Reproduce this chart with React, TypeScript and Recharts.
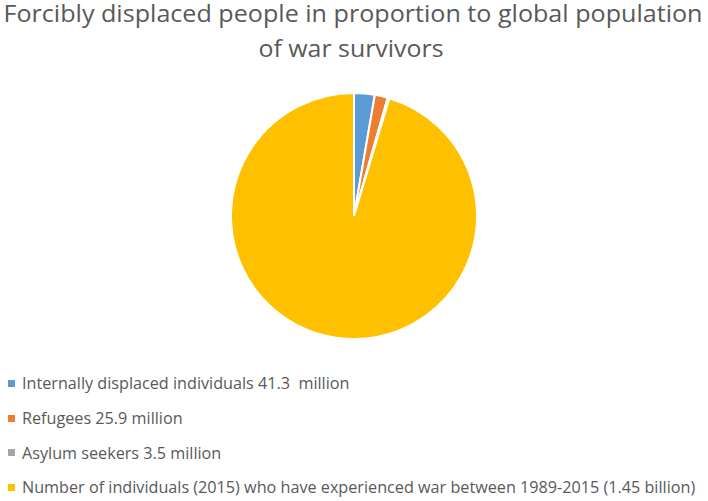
import React from "react";
import { PieChart, Pie, Cell, Legend } from "recharts";

const categories = [
  "Internally displaced individuals 41.3  million",
  "Refugees 25.9 million",
  "Asylum seekers 3.5 million",
  "Number of individuals (2015) who have experienced war between 1989-2015 (1.45 billion)",
];
const values = [41.3, 25.9, 3.5, 1450];
const COLORS = ["#5B9BD5", "#ED7D31", "#A5A5A5", "#FFC000"];
const titleLines = [
  "Forcibly displaced people in proportion to global population",
  "of war survivors",
];

const data = categories.map((name, i) => ({ name, value: values[i] }));

const FONT = "'Open Sans', 'Liberation Sans', sans-serif";
const TEXT = "#595959";

function LegendList({ payload }: any) {
  // keep the series order, not alphabetical
  const items = [...(payload || [])].sort(
    (a: any, b: any) => categories.indexOf(a.value) - categories.indexOf(b.value)
  );
  return (
    <div style={{ fontFamily: FONT, fontSize: 16.2, color: TEXT, textAlign: "left" }}>
      {items.map((p: any, i: number) => (
        <div key={i} style={{ display: "flex", alignItems: "center", height: 34.7 }}>
          <span
            style={{
              display: "inline-block",
              width: 7,
              height: 7,
              background: p.color,
              marginLeft: 8,
              marginRight: 7,
            }}
          />
          <span style={{ whiteSpace: "pre" }}>{p.value}</span>
        </div>
      ))}
    </div>
  );
}

export default function App() {
  return (
    <div style={{ position: "absolute", left: 0, top: 0, width: 708, height: 501, background: "#fff" }}>
      <PieChart width={708} height={501} margin={{ top: 0, right: 0, bottom: 0, left: 0 }}>
        <Pie
          data={data}
          dataKey="value"
          nameKey="name"
          cx={354}
          cy={216}
          outerRadius={123}
          startAngle={90}
          endAngle={-270}
          stroke="#ffffff"
          strokeWidth={2}
          isAnimationActive={false}
          legendType="square"
        >
          {data.map((d, i) => (
            <Cell key={d.name} fill={COLORS[i]} />
          ))}
        </Pie>
        <Legend
          layout="horizontal"
          align="left"
          verticalAlign="bottom"
          content={<LegendList />}
          wrapperStyle={{ position: "absolute", left: 0, top: 366, bottom: "auto", width: 708 }}
        />
      </PieChart>
      <svg width={708} height={70} style={{ position: "absolute", left: 0, top: 0, pointerEvents: "none" }}>
        <text x={353} y={22} textAnchor="middle" fontFamily={FONT} fontSize={24} fill={TEXT} textLength={699} lengthAdjust="spacingAndGlyphs">
          {titleLines[0]}
        </text>
        <text x={351} y={57} textAnchor="middle" fontFamily={FONT} fontSize={24} fill={TEXT} textLength={185} lengthAdjust="spacingAndGlyphs">
          {titleLines[1]}
        </text>
      </svg>
    </div>
  );
}
